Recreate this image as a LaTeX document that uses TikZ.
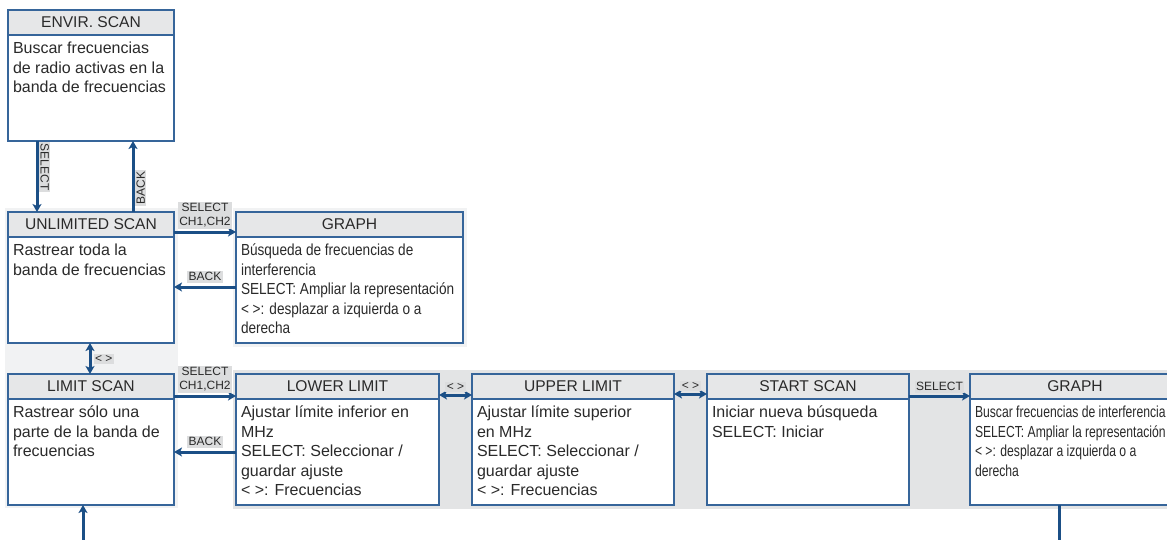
\documentclass[tikz,border=0pt]{standalone}
\usepackage{fontspec}
\setmainfont{Liberation Sans}
\newfontfamily\narrowfont[FakeStretch=0.85]{Liberation Sans}
\newfontfamily\narrowerfont[FakeStretch=0.76]{Liberation Sans}
\usetikzlibrary{arrows.meta, positioning, backgrounds}
\definecolor{boxblue}{HTML}{36659A}
\definecolor{arrowblue}{HTML}{1B4F86}
\definecolor{headgray}{HTML}{E6E7E8}
\definecolor{panelgray}{HTML}{F1F2F3}
\definecolor{rowgray}{HTML}{E3E4E5}
\definecolor{lblgray}{HTML}{DCDDDE}
\definecolor{txtgray}{HTML}{2A2A2A}

\begin{document}
\begin{tikzpicture}[
    head/.style={draw=boxblue, fill=headgray, line width=1.4pt, outer sep=0pt,
                 inner sep=0pt, minimum width=#1, minimum height=25pt,
                 text=txtgray, font=\fontsize{15.6pt}{18pt}\selectfont},
    bodybox/.style={draw=boxblue, fill=white, line width=1.4pt, outer sep=0pt,
                 inner xsep=5pt, inner ysep=7pt, text=txtgray,
                 font=\fontsize{16pt}{19.5pt}\selectfont,
                 execute at begin node={\begin{minipage}[t][92pt][t]{#1}\raggedright},
                 execute at end node={\end{minipage}}},
    narrow/.style={font=\narrowfont\fontsize{16pt}{19.5pt}\selectfont},
    narrower/.style={font=\narrowerfont\fontsize{16pt}{19.5pt}\selectfont},
    arrow/.style={-{Stealth[length=8pt, width=9pt, inset=2pt]}, line width=3pt, arrowblue},
    dblarrow/.style={{Stealth[length=8pt, width=9pt, inset=2pt]}-{Stealth[length=8pt, width=9pt, inset=2pt]},
                 line width=3pt, arrowblue},
    link/.style={line width=3pt, arrowblue},
    lbl/.style={fill=lblgray, inner sep=1.5pt, text=txtgray, align=center,
                font=\fontsize{12pt}{14pt}\selectfont}
]
    \useasboundingbox (0,0) rectangle (1167pt,-539pt);
    \clip (0,0) rectangle (1167pt,-539pt);

    % Environment scan
    \node[head=166pt, anchor=north west] (envhead) at (8pt,-10pt) {ENVIR. SCAN};
    \node[bodybox=156pt, below=0pt of envhead] (envbody)
        {Buscar frecuencias\\de radio activas en la\\banda de frecuencias};

    % Unlimited scan
    \node[head=166pt, below=71pt of envbody] (unlhead) {UNLIMITED SCAN};
    \node[bodybox=156pt, below=0pt of unlhead] (unlbody)
        {Rastrear toda la\\banda de frecuencias};
    \node[head=227pt, right=62pt of unlhead] (grahead) {GRAPH};
    \node[bodybox=217pt, narrow, below=0pt of grahead] (grabody)
        {Búsqueda de frecuencias de\\interferencia\\SELECT: Ampliar la representación\\< >: desplazar a izquierda o a\\derecha};

    % Limit scan
    \node[head=166pt, below=31pt of unlbody] (limhead) {LIMIT SCAN};
    \node[bodybox=156pt, below=0pt of limhead] (limbody)
        {Rastrear sólo una\\parte de la banda de\\frecuencias};
    \node[head=203pt, right=62pt of limhead] (lowhead) {LOWER LIMIT};
    \node[bodybox=193pt, below=0pt of lowhead] (lowbody)
        {Ajustar límite inferior en\\MHz\\SELECT: Seleccionar /\\guardar ajuste\\< >: Frecuencias};
    \node[head=202pt, right=33pt of lowhead] (upphead) {UPPER LIMIT};
    \node[bodybox=192pt, below=0pt of upphead] (uppbody)
        {Ajustar límite superior\\en MHz\\SELECT: Seleccionar /\\guardar ajuste\\< >: Frecuencias};
    \node[head=202pt, right=33pt of upphead] (stahead) {START SCAN};
    \node[bodybox=192pt, below=0pt of stahead] (stabody)
        {Iniciar nueva búsqueda\\SELECT: Iniciar};
    \node[head=210pt, right=61pt of stahead] (gr2head) {GRAPH};
    \node[bodybox=200pt, narrower, below=0pt of gr2head] (gr2body)
        {Buscar frecuencias de interferencia\\SELECT: Ampliar la representación\\< >: desplazar a izquierda o a\\derecha};

    % Panels
    \begin{scope}[on background layer]
        \fill[panelgray] ([shift={(-3pt,4pt)}]unlhead.north west) rectangle ([shift={(4pt,-3pt)}]limbody.south east);
        \fill[panelgray] ([shift={(-3pt,4pt)}]grahead.north west) rectangle ([shift={(4pt,-4pt)}]grabody.south east);
        \fill[rowgray] ([shift={(-3pt,4pt)}]lowhead.north west) rectangle ([shift={(10pt,-4pt)}]gr2body.south east);
    \end{scope}

    % Arrows
    \draw[arrow] ([xshift=29pt]envbody.south west) -- ([xshift=29pt]unlhead.north west)
        node[lbl, pos=0.37, rotate=-90, anchor=south, outer sep=2pt] {SELECT};
    \draw[arrow] ([xshift=125pt]unlhead.north west) -- ([xshift=125pt]envbody.south west)
        node[lbl, pos=0.34, rotate=90, anchor=north, outer sep=2pt] {BACK};
    \draw[arrow] ([yshift=-20pt]unlhead.north east) -- ([yshift=-20pt]grahead.north west)
        node[lbl, midway, above=2pt] {SELECT\\CH1,CH2};
    \draw[arrow] ([yshift=-50pt]grabody.north west) -- ([yshift=-50pt]unlbody.north east)
        node[lbl, midway, above=3pt] {BACK};
    \draw[dblarrow] ([xshift=82pt]unlbody.south west) -- ([xshift=82pt]limhead.north west)
        node[lbl, midway, right=2pt] {< >};
    \draw[arrow] ([yshift=-22pt]limhead.north east) -- ([yshift=-22pt]lowhead.north west)
        node[lbl, midway, above=2pt] {SELECT\\CH1,CH2};
    \draw[arrow] ([yshift=-53pt]lowbody.north west) -- ([yshift=-53pt]limbody.north east)
        node[lbl, midway, above=3pt] {BACK};
    \draw[dblarrow] ([yshift=-21pt]lowhead.north east) -- ([yshift=-21pt]upphead.north west)
        node[lbl, midway, above=2pt] {< >};
    \draw[dblarrow] ([yshift=-20pt]upphead.north east) -- ([yshift=-20pt]stahead.north west)
        node[lbl, midway, above=2pt] {< >};
    \draw[arrow] ([yshift=-22pt]stahead.north east) -- ([yshift=-22pt]gr2head.north west)
        node[lbl, midway, above=2pt] {SELECT};

    % Free ends
    \coordinate (limin) at ([xshift=75pt, yshift=-36pt]limbody.south west);
    \coordinate (grout) at ([xshift=89pt, yshift=-36pt]gr2body.south west);
    \draw[arrow] (limin) -- (limin |- limbody.south);
    \draw[link] (grout |- gr2body.south) -- (grout);

\end{tikzpicture}
\end{document}
